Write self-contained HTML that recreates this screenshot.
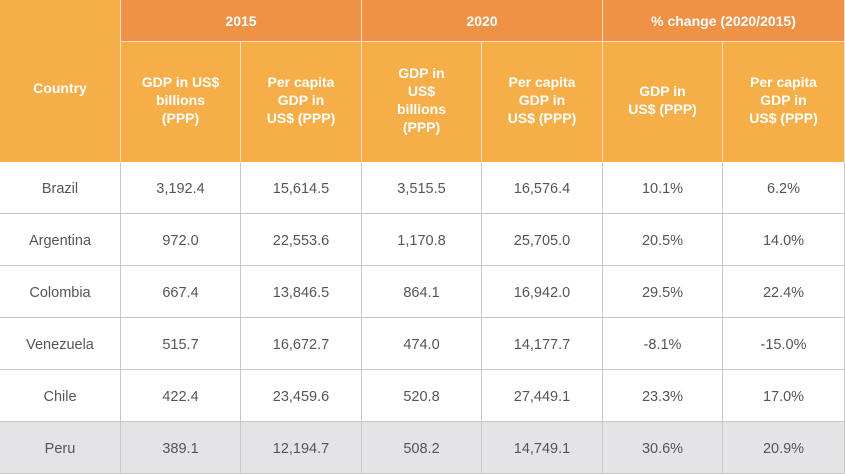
<!DOCTYPE html>
<html><head><meta charset="utf-8"><style>
body{margin:0;width:845px;height:474px;overflow:hidden;background:#fff;font-family:"Liberation Sans",Arial,sans-serif}
.c{position:absolute;box-sizing:border-box;display:flex;align-items:center;justify-content:center;text-align:center;font-size:14px;line-height:18px}
.h1{background:#f09245;color:#fff;font-weight:bold;border-right:1px solid #fbe0c4;border-bottom:1px solid #fbe0c4}
.h2{background:#f5ae48;color:#fff;font-weight:bold;border-right:1px solid #fbe0c4}
.d{color:#555;border-right:1px solid #c8c8c8;border-bottom:1px solid #c8c8c8;background:#fff;padding-top:2px;font-size:14.5px}
.g{background:#e4e4e6}
</style></head><body>
<div id="t"></div>
<script>
const countries=["Brazil","Argentina","Colombia","Venezuela","Chile","Peru"];
const gdp2015=["3,192.4","972.0","667.4","515.7","422.4","389.1"];
const pc2015=["15,614.5","22,553.6","13,846.5","16,672.7","23,459.6","12,194.7"];
const gdp2020=["3,515.5","1,170.8","864.1","474.0","520.8","508.2"];
const pc2020=["16,576.4","25,705.0","16,942.0","14,177.7","27,449.1","14,749.1"];
const gdpChg=["10.1%","20.5%","29.5%","-8.1%","23.3%","30.6%"];
const pcChg=["6.2%","14.0%","22.4%","-15.0%","17.0%","20.9%"];
const xs=[0,121,241,362,482,603,723,845];
const t=document.getElementById('t');
function cell(cls,x,y,w,h,html,name){const d=document.createElement('div');d.className='c '+cls;d.style.left=x+'px';d.style.top=y+'px';d.style.width=w+'px';d.style.height=h+'px';d.innerHTML=html;


t.appendChild(d);return d;}
const ch=cell('h2',0,0,121,162,'Country','country-header');ch.style.paddingTop='14px';
const yrs=["2015","2020","% change (2020/2015)"];
for(let i=0;i<3;i++)cell('h1',xs[1+2*i],0,xs[3+2*i]-xs[1+2*i],42,yrs[i],'group-header');
const subs=["GDP in US$<br>billions<br>(PPP)","Per capita<br>GDP in<br>US$ (PPP)","GDP in<br>US$<br>billions<br>(PPP)","Per capita<br>GDP in<br>US$ (PPP)","GDP in<br>US$ (PPP)","Per capita<br>GDP in<br>US$ (PPP)"];
for(let i=0;i<6;i++){const s=cell('h2',xs[i+1],42,xs[i+2]-xs[i+1],120,subs[i],'column-header');s.style.paddingBottom='4px';}
const cols=[countries,gdp2015,pc2015,gdp2020,pc2020,gdpChg,pcChg];
for(let r=0;r<6;r++){for(let c=0;c<7;c++){cell('d'+(r==5?' g':''),xs[c],162+r*52,xs[c+1]-xs[c],52,cols[c][r],c==0?'country-cell':'value-cell');}}
</script>
</body></html>
